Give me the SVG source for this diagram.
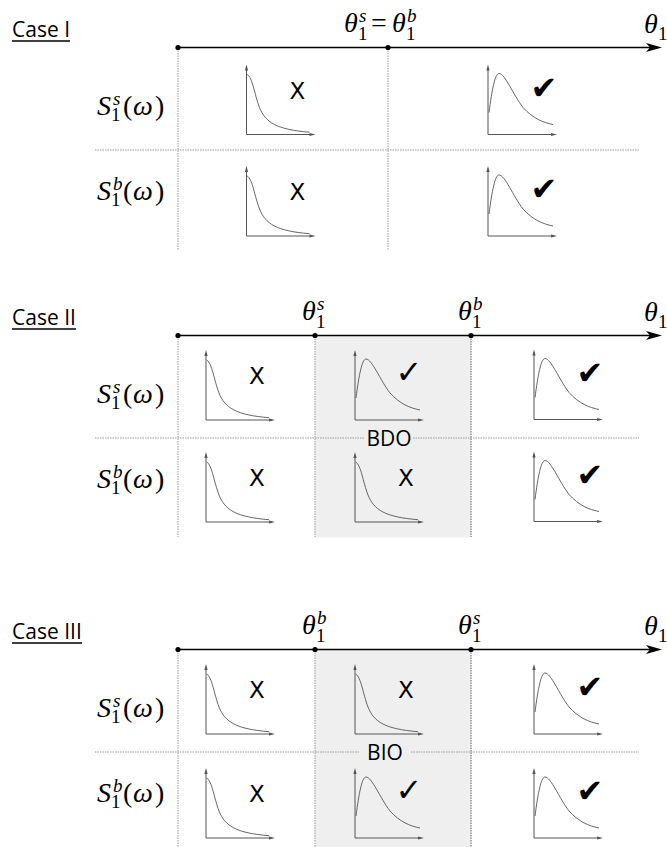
<svg xmlns="http://www.w3.org/2000/svg" xmlns:xlink="http://www.w3.org/1999/xlink" width="667" height="847" viewBox="0 0 667 847">
<style>
.m{font-family:"Liberation Serif",serif;font-size:28px;font-style:italic;fill:#000}
.rm{font-style:normal}
.sm{font-size:19px}
.sans{font-family:"Open Sans","DejaVu Sans",sans-serif;font-size:21px;fill:#000}
.mark{font-family:"DejaVu Sans",sans-serif;font-size:23px;text-anchor:middle;fill:#000}
.ck{font-family:"DejaVu Sans",sans-serif;font-size:32px;text-anchor:middle;fill:#000}
.dl{stroke:#999;stroke-width:1;stroke-dasharray:1.5 1;fill:none}
.dlb{stroke:#999;stroke-width:1.6;stroke-dasharray:1.5 1;fill:none}
.ax{stroke:#000;stroke-width:1.5;fill:none}
.pax{stroke:#555;stroke-width:1;fill:none}
.crv{stroke:#555;stroke-width:0.9;fill:none}
.ul{stroke:#000;stroke-width:1.3}
.shade{fill:#efefef}
</style>
<defs>
<g id="axes">
<path class="pax" d="M0,0 V-67 M0,0 H66"/>
<path d="M0,-70 L-1.6,-64 L1.6,-64 Z M69,0 L63,-1.6 L63,1.6 Z" fill="#555"/>
</g>
<g id="decay">
<use href="#axes"/>
<path class="crv" d="M0.7,-60 C6,-57 8,-40 13,-27 C19,-12 30,-5 63,-2.3"/>
</g>
<g id="peak">
<use href="#axes"/>
<path class="crv" d="M1,-22 C4,-45 7,-61 11,-61 C17,-61 25,-40 35,-27 C45,-16 55,-12 65,-10"/>
</g>
<path id="bigarrow" d="M0,0 L-16,-4.5 L-12,0 L-16,4.5 Z" fill="#000"/>
</defs>

<!-- ===== Case I ===== -->
<g id="case1">
<g id="case1-title">
<text class="sans" x="12" y="37">Case I</text>
<line class="ul" x1="12" y1="41" x2="70" y2="41"/>
</g>
<g id="case1-grid">
<line class="dl" x1="178" y1="48" x2="178" y2="250"/>
<line class="dl" x1="388" y1="48" x2="388" y2="250"/>
<line class="dl" x1="95" y1="150" x2="640" y2="150"/>
</g>
<g id="case1-axis">
<line class="ax" x1="178" y1="47.5" x2="652" y2="47.5"/>
<use href="#bigarrow" x="662" y="47.5"/>
<circle cx="178" cy="47.5" r="2.6"/>
<circle cx="388" cy="47.5" r="2.6"/>
</g>
<g id="case1-label-eq">
<text class="m" x="344" y="32">θ</text>
<text class="m rm sm" x="358" y="40">1</text>
<text class="m sm" x="359" y="22">s</text>
<text class="m rm" x="371" y="32">=</text>
<text class="m" x="392" y="32">θ</text>
<text class="m rm sm" x="406" y="40">1</text>
<text class="m sm" x="407" y="22">b</text>
</g>
<g id="case1-label-theta">
<text class="m" x="644" y="33">θ</text>
<text class="m rm sm" x="658" y="40">1</text>
</g>
<g id="case1-row-s">
<text class="m" x="97" y="115">S</text>
<text class="m rm sm" x="111" y="121">1</text>
<text class="m sm" x="113" y="105">s</text>
<text class="m rm" x="123" y="115">(</text>
<text class="m" x="133" y="115">ω</text>
<text class="m rm" x="155" y="115">)</text>
</g>
<g id="case1-row-b">
<text class="m" x="97" y="200">S</text>
<text class="m rm sm" x="111" y="206">1</text>
<text class="m sm" x="113" y="190">b</text>
<text class="m rm" x="123" y="200">(</text>
<text class="m" x="133" y="200">ω</text>
<text class="m rm" x="155" y="200">)</text>
</g>
<g id="case1-s-1" transform="translate(246.5,134.5)"><use href="#decay"/><text class="mark" x="51" y="-36">X</text></g>
<g id="case1-s-2" transform="translate(488,134.5)"><use href="#peak"/><text class="ck" x="56" y="-36">✔</text></g>
<g id="case1-b-1" transform="translate(246.5,236)"><use href="#decay"/><text class="mark" x="51" y="-36">X</text></g>
<g id="case1-b-2" transform="translate(488,236)"><use href="#peak"/><text class="ck" x="56" y="-36">✔</text></g>
</g>

<!-- ===== Case II ===== -->
<g id="case2">
<rect id="case2-bdo-region" class="shade" x="315" y="335.5" width="156" height="202"/>
<g id="case2-title">
<text class="sans" x="12" y="325">Case II</text>
<line class="ul" x1="12" y1="329" x2="76" y2="329"/>
</g>
<g id="case2-grid">
<line class="dl" x1="178" y1="336" x2="178" y2="537"/>
<line class="dl" x1="315" y1="336" x2="315" y2="537"/>
<line class="dlb" x1="471" y1="336" x2="471" y2="537"/>
<line class="dl" x1="95" y1="438" x2="365" y2="438"/>
<line class="dl" x1="413" y1="438" x2="639" y2="438"/>
</g>
<text id="case2-bdo" class="sans" x="389" y="446" text-anchor="middle">BDO</text>
<g id="case2-axis">
<line class="ax" x1="178" y1="335.5" x2="652" y2="335.5"/>
<use href="#bigarrow" x="662" y="335.5"/>
<circle cx="178" cy="335.5" r="2.6"/>
<circle cx="315" cy="335.5" r="2.6"/>
<circle cx="471" cy="335.5" r="2.6"/>
</g>
<g id="case2-label-s">
<text class="m" x="302" y="320">θ</text>
<text class="m rm sm" x="316" y="328">1</text>
<text class="m sm" x="317" y="310">s</text>
</g>
<g id="case2-label-b">
<text class="m" x="458" y="320">θ</text>
<text class="m rm sm" x="472" y="328">1</text>
<text class="m sm" x="473" y="310">b</text>
</g>
<g id="case2-label-theta">
<text class="m" x="644" y="321">θ</text>
<text class="m rm sm" x="658" y="328">1</text>
</g>
<g id="case2-row-s">
<text class="m" x="97" y="403">S</text>
<text class="m rm sm" x="111" y="409">1</text>
<text class="m sm" x="113" y="393">s</text>
<text class="m rm" x="123" y="403">(</text>
<text class="m" x="133" y="403">ω</text>
<text class="m rm" x="155" y="403">)</text>
</g>
<g id="case2-row-b">
<text class="m" x="97" y="488">S</text>
<text class="m rm sm" x="111" y="494">1</text>
<text class="m sm" x="113" y="478">b</text>
<text class="m rm" x="123" y="488">(</text>
<text class="m" x="133" y="488">ω</text>
<text class="m rm" x="155" y="488">)</text>
</g>
<g id="case2-s-1" transform="translate(206,420)"><use href="#decay"/><text class="mark" x="51" y="-36">X</text></g>
<g id="case2-s-2" transform="translate(355,420)"><use href="#peak"/><text class="ck" x="54" y="-37">✓</text></g>
<g id="case2-s-3" transform="translate(534,419.5)"><use href="#peak"/><text class="ck" x="56" y="-36">✔</text></g>
<g id="case2-b-1" transform="translate(206,522)"><use href="#decay"/><text class="mark" x="51" y="-36">X</text></g>
<g id="case2-b-2" transform="translate(355,522)"><use href="#decay"/><text class="mark" x="51" y="-36">X</text></g>
<g id="case2-b-3" transform="translate(534,521.5)"><use href="#peak"/><text class="ck" x="56" y="-36">✔</text></g>
</g>

<!-- ===== Case III ===== -->
<g id="case3">
<rect id="case3-bio-region" class="shade" x="315" y="649.5" width="156" height="197.5"/>
<g id="case3-title">
<text class="sans" x="12" y="639">Case III</text>
<line class="ul" x1="12" y1="643" x2="82" y2="643"/>
</g>
<g id="case3-grid">
<line class="dl" x1="178" y1="650" x2="178" y2="847"/>
<line class="dl" x1="315" y1="650" x2="315" y2="847"/>
<line class="dlb" x1="471" y1="650" x2="471" y2="847"/>
<line class="dl" x1="95" y1="752" x2="360" y2="752"/>
<line class="dl" x1="411" y1="752" x2="639" y2="752"/>
</g>
<text id="case3-bio" class="sans" x="385" y="760" text-anchor="middle">BIO</text>
<g id="case3-axis">
<line class="ax" x1="178" y1="649.5" x2="652" y2="649.5"/>
<use href="#bigarrow" x="662" y="649.5"/>
<circle cx="178" cy="649.5" r="2.6"/>
<circle cx="315" cy="649.5" r="2.6"/>
<circle cx="471" cy="649.5" r="2.6"/>
</g>
<g id="case3-label-b">
<text class="m" x="302" y="634">θ</text>
<text class="m rm sm" x="316" y="642">1</text>
<text class="m sm" x="317" y="624">b</text>
</g>
<g id="case3-label-s">
<text class="m" x="458" y="634">θ</text>
<text class="m rm sm" x="472" y="642">1</text>
<text class="m sm" x="473" y="624">s</text>
</g>
<g id="case3-label-theta">
<text class="m" x="644" y="635">θ</text>
<text class="m rm sm" x="658" y="642">1</text>
</g>
<g id="case3-row-s">
<text class="m" x="97" y="717">S</text>
<text class="m rm sm" x="111" y="723">1</text>
<text class="m sm" x="113" y="707">s</text>
<text class="m rm" x="123" y="717">(</text>
<text class="m" x="133" y="717">ω</text>
<text class="m rm" x="155" y="717">)</text>
</g>
<g id="case3-row-b">
<text class="m" x="97" y="802">S</text>
<text class="m rm sm" x="111" y="808">1</text>
<text class="m sm" x="113" y="792">b</text>
<text class="m rm" x="123" y="802">(</text>
<text class="m" x="133" y="802">ω</text>
<text class="m rm" x="155" y="802">)</text>
</g>
<g id="case3-s-1" transform="translate(206,734)"><use href="#decay"/><text class="mark" x="51" y="-36">X</text></g>
<g id="case3-s-2" transform="translate(355,734)"><use href="#decay"/><text class="mark" x="51" y="-36">X</text></g>
<g id="case3-s-3" transform="translate(534,734)"><use href="#peak"/><text class="ck" x="56" y="-36">✔</text></g>
<g id="case3-b-1" transform="translate(206,838)"><use href="#decay"/><text class="mark" x="51" y="-36">X</text></g>
<g id="case3-b-2" transform="translate(355,838)"><use href="#peak"/><text class="ck" x="54" y="-37">✓</text></g>
<g id="case3-b-3" transform="translate(534,838)"><use href="#peak"/><text class="ck" x="56" y="-36">✔</text></g>
</g>
</svg>
